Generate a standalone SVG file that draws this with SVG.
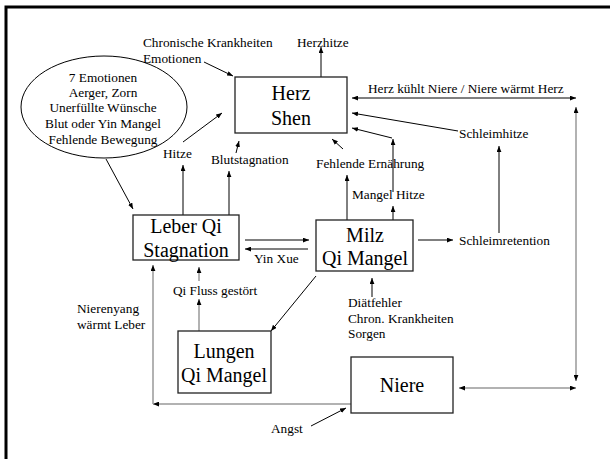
<svg xmlns="http://www.w3.org/2000/svg" width="610" height="459" viewBox="0 0 610 459">
<style>
text{font-family:"Liberation Serif","Times New Roman",serif;fill:#000}
.s{font-size:13.3px}
.b{font-size:20px;text-anchor:middle}
.m{text-anchor:middle}
.box{fill:#fff;stroke:#222;stroke-width:1.3}
.c line{stroke:#000;stroke-width:1;marker-end:url(#a)}
.c line.g{stroke:#999;stroke-width:1.5;marker-end:url(#ag)}
.c line.d{marker-start:url(#a)}
.c line.gd{marker-start:url(#ag)}
</style>
<defs>
<marker id="a" viewBox="0 0 10 8" refX="10" refY="4" markerWidth="6" markerHeight="5" markerUnits="userSpaceOnUse" orient="auto-start-reverse"><path d="M0,0L10,4L0,8z" fill="#000"/></marker>
<marker id="ag" viewBox="0 0 10 8" refX="10" refY="4" markerWidth="6" markerHeight="5" markerUnits="userSpaceOnUse" orient="auto-start-reverse"><path d="M0,0L10,4L0,8z" fill="#000"/></marker>
</defs>
<rect width="610" height="459" fill="#fff"/>
<polyline points="6,459 6,7 610,7" fill="none" stroke="#000" stroke-width="3"/>

<g class="c" id="connectors">
<line x1="204" y1="62" x2="233" y2="76"/>
<line x1="321" y1="77" x2="321" y2="47"/>
<line x1="183" y1="142" x2="222" y2="113"/>
<line x1="236" y1="153" x2="239" y2="141"/>
<line x1="183" y1="215" x2="183" y2="165"/>
<line x1="229" y1="215" x2="229" y2="171"/>
<line x1="106" y1="159" x2="133" y2="209"/>
<line x1="245" y1="240" x2="309" y2="240"/>
<line x1="308" y1="249" x2="245" y2="249"/>
<line x1="347" y1="220" x2="347" y2="175"/>
<line x1="343" y1="149" x2="332" y2="139"/>
<line x1="393" y1="220" x2="393" y2="206"/>
<line x1="393" y1="192" x2="393" y2="139"/>
<line x1="392" y1="138" x2="352" y2="128"/>
<line x1="458" y1="131" x2="352" y2="113"/>
<line class="d" x1="352" y1="98" x2="576" y2="98"/>
<line x1="499" y1="233" x2="499" y2="146"/>
<line x1="418" y1="240" x2="453" y2="240"/>
<line class="g gd" x1="576" y1="107" x2="576" y2="381"/>
<line class="g gd" x1="459" y1="388" x2="576" y2="388"/>
<line class="g" x1="351" y1="404" x2="153" y2="404"/>
<line class="g" x1="153" y1="404" x2="153" y2="265"/>
<line class="g" x1="199" y1="331" x2="199" y2="299"/>
<line class="g" x1="199" y1="281" x2="199" y2="267"/>
<line x1="316" y1="276" x2="271" y2="331"/>
<line x1="372" y1="297" x2="372" y2="278"/>
<line x1="311" y1="426" x2="346" y2="408"/>
</g>

<g id="emotions">
<ellipse cx="104" cy="107" rx="83" ry="51" fill="none" stroke="#000" stroke-width="1"/>
<text class="s m" x="103" y="82">7 Emotionen</text>
<text class="s m" x="103" y="97">Aerger, Zorn</text>
<text class="s m" x="103" y="112">Unerfüllte Wünsche</text>
<text class="s m" x="103" y="128">Blut oder Yin Mangel</text>
<text class="s m" x="103" y="144">Fehlende Bewegung</text>
</g>

<g id="herz">
<rect class="box" x="235" y="77" width="112" height="56"/>
<text class="b" x="291" y="100">Herz</text>
<text class="b" x="291" y="125">Shen</text>
</g>
<g id="leber">
<rect class="box" x="133" y="215" width="106" height="45"/>
<text class="b" x="186" y="233">Leber Qi</text>
<text class="b" x="186" y="257">Stagnation</text>
</g>
<g id="milz">
<rect class="box" x="316" y="220" width="97" height="51"/>
<text class="b" x="365" y="242">Milz</text>
<text class="b" x="365" y="265">Qi Mangel</text>
</g>
<g id="lungen">
<rect class="box" x="178" y="331" width="93" height="62"/>
<text class="b" x="224" y="358">Lungen</text>
<text class="b" x="224" y="382">Qi Mangel</text>
</g>
<g id="niere">
<rect class="box" x="351" y="357" width="102" height="56"/>
<text class="b" x="402" y="392">Niere</text>
</g>

<g id="labels">
<text class="s" x="143" y="47">Chronische Krankheiten</text>
<text class="s" x="143" y="63">Emotionen</text>
<text class="s" x="297" y="47">Herzhitze</text>
<text class="s" x="163" y="158">Hitze</text>
<text class="s" x="211" y="164">Blutstagnation</text>
<text class="s" x="316" y="168">Fehlende Ernährung</text>
<text class="s" x="352" y="199">Mangel Hitze</text>
<text class="s" x="459" y="138">Schleimhitze</text>
<text class="s" x="368" y="93">Herz kühlt Niere / Niere wärmt Herz</text>
<text class="s" x="254" y="263">Yin Xue</text>
<text class="s" x="459" y="245">Schleimretention</text>
<text class="s" x="173" y="295">Qi Fluss gestört</text>
<text class="s" x="77" y="313">Nierenyang</text>
<text class="s" x="77" y="329">wärmt Leber</text>
<text class="s" x="348" y="307">Diätfehler</text>
<text class="s" x="348" y="323">Chron. Krankheiten</text>
<text class="s" x="348" y="338">Sorgen</text>
<text class="s" x="271" y="433">Angst</text>
</g>
</svg>
